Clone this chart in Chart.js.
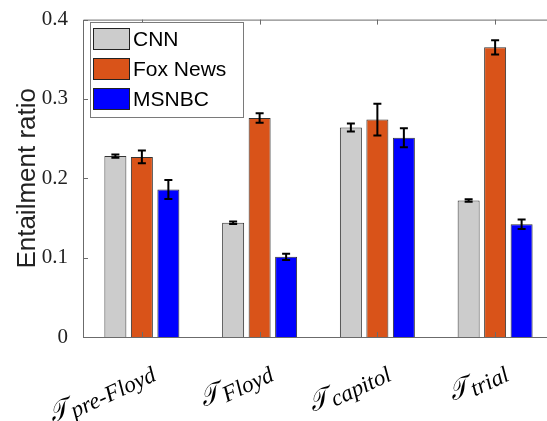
<!DOCTYPE html>
<html>
<head>
<meta charset="utf-8">
<script src="https://cdn.jsdelivr.net/npm/chart.js@4.4.0/dist/chart.umd.min.js"></script>
<style>
  html, body { margin: 0; padding: 0; background: #fff; overflow: hidden; }
  #wrap { width: 560px; height: 421px; }
</style>
</head>
<body>
<div id="wrap"><canvas id="barChart"></canvas></div>
<script>
// data
var categories = ['pre-Floyd', 'Floyd', 'capitol', 'trial'];
var seriesNames = ['CNN', 'Fox News', 'MSNBC'];
var cnn = [0.228, 0.144, 0.264, 0.172];
var fox = [0.227, 0.276, 0.274, 0.365];
var msnbc = [0.186, 0.101, 0.251, 0.142];
var cnnErr = [0.002, 0.0015, 0.005, 0.0015];
var foxErr = [0.008, 0.006, 0.020, 0.009];
var msnbcErr = [0.012, 0.004, 0.012, 0.006];
var yTicks = [0, 0.1, 0.2, 0.3, 0.4];

var colors = ['#cccccc', '#d95319', '#0000ff'];
var axisColor = '#6b6b6b';

// error bars drawn on top of each bar
var errorBars = {
    id: 'errorBars',
    afterDatasetsDraw: function(chart) {
        var ctx = chart.ctx;
        var yScale = chart.scales.y;
        var errs = [cnnErr, foxErr, msnbcErr];
        ctx.save();
        ctx.strokeStyle = '#000';
        ctx.lineWidth = 2;
        chart.data.datasets.forEach(function(ds, di) {
            var meta = chart.getDatasetMeta(di);
            meta.data.forEach(function(bar, i) {
                var v = ds.data[i];
                var top = yScale.getPixelForValue(v + errs[di][i]);
                var bot = yScale.getPixelForValue(v - errs[di][i]);
                ctx.beginPath();
                ctx.moveTo(bar.x, top); ctx.lineTo(bar.x, bot);
                ctx.moveTo(bar.x - 4, top); ctx.lineTo(bar.x + 4, top);
                ctx.moveTo(bar.x - 4, bot); ctx.lineTo(bar.x + 4, bot);
                ctx.stroke();
            });
        });
        ctx.restore();
    }
};

// box frame with inward ticks (matlab look)
var frame = {
    id: 'frame',
    afterDatasetsDraw: function(chart) {
        var ctx = chart.ctx;
        var a = chart.chartArea;
        var x = chart.scales.x, y = chart.scales.y;
        ctx.save();
        ctx.strokeStyle = axisColor;
        ctx.lineWidth = 1;
        ctx.beginPath();
        ctx.moveTo(a.left + 0.5, a.bottom + 0.5);
        ctx.lineTo(a.left + 0.5, a.top + 0.5);
        ctx.lineTo(a.right + 0.5, a.top + 0.5);
        ctx.lineTo(a.right + 0.5, a.bottom + 0.5);
        ctx.lineTo(a.left + 0.5, a.bottom + 0.5);
        yTicks.forEach(function(t) {
            var py = Math.round(y.getPixelForValue(t)) + 0.5;
            ctx.moveTo(a.left, py); ctx.lineTo(a.left + 5, py);
            ctx.moveTo(a.right, py); ctx.lineTo(a.right - 5, py);
        });
        categories.forEach(function(c, i) {
            var px = Math.round(x.getPixelForValue(i)) + 0.5;
            ctx.moveTo(px, a.top); ctx.lineTo(px, a.top + 5);
            ctx.moveTo(px, a.bottom); ctx.lineTo(px, a.bottom - 5);
        });
        ctx.stroke();
        ctx.restore();
    }
};

// legend box in the upper left of the axes
var boxLegend = {
    id: 'boxLegend',
    afterDraw: function(chart) {
        var ctx = chart.ctx;
        var left = 90, top = 22, w = 153, h = 95;
        ctx.save();
        ctx.fillStyle = '#fff';
        ctx.fillRect(left, top, w, h);
        ctx.strokeStyle = '#7a7a7a';
        ctx.lineWidth = 1;
        ctx.strokeRect(left + 0.5, top + 0.5, w, h);
        ctx.font = '21px "Liberation Sans", Arial, sans-serif';
        ctx.textBaseline = 'middle';
        chart.data.datasets.forEach(function(ds, i) {
            var ry = top + 6 + i * 30;
            ctx.fillStyle = ds.backgroundColor;
            ctx.fillRect(left + 3.5, ry + 0.5, 36, 21);
            ctx.strokeStyle = '#222';
            ctx.strokeRect(left + 3.5, ry + 0.5, 36, 21);
            ctx.fillStyle = '#000';
            ctx.fillText(ds.label, left + 43, ry + 12);
        });
        ctx.restore();
    }
};

// rotated italic category labels with subscripts
var catLabels = {
    id: 'catLabels',
    afterDraw: function(chart) {
        var ctx = chart.ctx;
        var x = chart.scales.x;
        var bigFont = 'italic 26px "DejaVu Serif", "Liberation Serif", serif';
        var subFont = 'italic 23px "Liberation Serif", serif';
        ctx.save();
        ctx.fillStyle = '#000';
        ctx.textBaseline = 'alphabetic';
        categories.forEach(function(c, i) {
            var px = x.getPixelForValue(i);
            ctx.save();
            ctx.translate(px + 10, 368);
            ctx.rotate(-25 * Math.PI / 180);
            ctx.font = subFont;
            var ws = ctx.measureText(c).width;
            ctx.font = bigFont;
            var wt = ctx.measureText('\u{1D4AF}').width;
            ctx.fillText('\u{1D4AF}', -ws - wt - 2, 8);
            ctx.font = subFont;
            ctx.fillText(c, -ws, 13);
            ctx.restore();
        });
        ctx.restore();
    }
};

var datasets = [cnn, fox, msnbc].map(function(vals, i) {
    return {
        label: seriesNames[i],
        data: vals,
        backgroundColor: colors[i],
        borderColor: '#333',
        borderWidth: 1,
        categoryPercentage: 0.675,
        barPercentage: 0.83
    };
});

var barChart_var = new Chart(document.getElementById('barChart'), {
    type: 'bar',
    data: {
        labels: categories,
        datasets: datasets
    },
    options: {
        responsive: true,
        maintainAspectRatio: false,
        animation: false,
        layout: {
            padding: { top: 17, right: 6, left: 0, bottom: 0 }
        },
        plugins: {
            legend: { display: false },
            tooltip: { enabled: false }
        },
        scales: {
            x: {
                grid: { display: false },
                border: { display: false },
                ticks: { display: false },
                afterFit: function(s) { s.height = 84; }
            },
            y: {
                min: 0,
                max: 0.4,
                afterBuildTicks: function(s) {
                    s.ticks = yTicks.map(function(v) { return { value: v }; });
                },
                grid: { display: false },
                border: { display: false },
                ticks: {
                    color: '#222',
                    padding: 7,
                    font: { family: '"Liberation Serif", serif', size: 21 },
                    callback: function(v) { return v === 0 ? '0' : v.toFixed(1); }
                },
                title: {
                    display: true,
                    text: 'Entailment ratio',
                    color: '#222',
                    padding: { top: 12, bottom: 0 },
                    font: { family: '"Liberation Sans", Arial, sans-serif', size: 26 }
                },
                afterFit: function(s) { s.width = 83; }
            }
        }
    },
    plugins: [errorBars, frame, boxLegend, catLabels]
});
</script>
</body>
</html>
